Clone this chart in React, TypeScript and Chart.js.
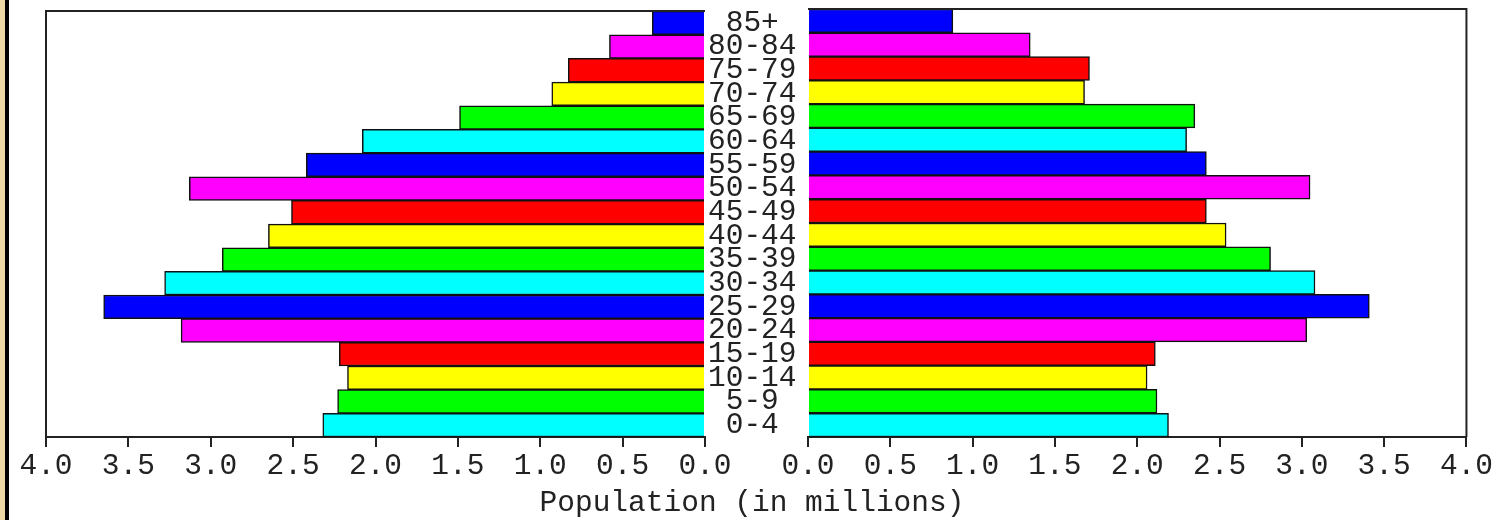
import React, { useEffect, useRef } from "react";
import { Chart, registerables } from "chart.js";

Chart.register(...registerables);

const ageGroups = ["0-4", "5-9", "10-14", "15-19", "20-24", "25-29", "30-34", "35-39", "40-44", "45-49", "50-54", "55-59", "60-64", "65-69", "70-74", "75-79", "80-84", "85+"];
const maleValues = [2.32, 2.23, 2.17, 2.22, 3.18, 3.65, 3.28, 2.93, 2.65, 2.51, 3.13, 2.42, 2.08, 1.49, 0.93, 0.83, 0.58, 0.32];
const femaleValues = [2.19, 2.12, 2.06, 2.11, 3.03, 3.41, 3.08, 2.81, 2.54, 2.42, 3.05, 2.42, 2.30, 2.35, 1.68, 1.71, 1.35, 0.88];
const palette = ["#00ffff", "#00ff00", "#ffff00", "#ff0000", "#ff00ff", "#0000ff"];
const axisMin = 0;
const axisMax = 4;
const axisStep = 0.5;
const axisTitle = "Population (in millions)";

const W = 1497;
const H = 520;
const FONT = { family: "'Liberation Mono', monospace", size: 29.5, lineHeight: 1 };
const LABEL_FONT = { family: "'Liberation Mono', monospace", size: 29.5, lineHeight: 0.55 };
const INK = "#222";

const barColors = ageGroups.map((_, i) => palette[i % palette.length]);

const framePlugin = (side: "left" | "right") => ({
  id: "frame" + side,
  afterDatasetsDraw(chart: any) {
    const { ctx, chartArea: a } = chart;
    ctx.save();
    ctx.strokeStyle = INK;
    ctx.lineWidth = 2;
    ctx.beginPath();
    if (side === "left") {
      ctx.moveTo(a.right, a.top);
      ctx.lineTo(a.left, a.top);
      ctx.lineTo(a.left, a.bottom);
    } else {
      ctx.moveTo(a.left, a.top);
      ctx.lineTo(a.right, a.top);
      ctx.lineTo(a.right, a.bottom);
    }
    ctx.stroke();
    ctx.restore();
  },
});

function xScale(reverse: boolean) {
  return {
    type: "linear" as const,
    min: axisMin,
    max: axisMax,
    reverse,
    afterFit: (s: any) => {
      s.height = 83;
    },
    ticks: {
      stepSize: axisStep,
      font: FONT,
      color: INK,
      padding: 4,
      maxRotation: 0,
      autoSkip: false,
      callback: (v: any) => Number(v).toFixed(1),
    },
    grid: {
      drawOnChartArea: false,
      drawTicks: true,
      tickLength: 10,
      color: INK,
      lineWidth: 2,
    },
    border: { display: true, color: INK, width: 2 },
  };
}

export default function App() {
  const leftRef = useRef<HTMLCanvasElement>(null);
  const rightRef = useRef<HTMLCanvasElement>(null);

  useEffect(() => {
    const common = {
      indexAxis: "y" as const,
      responsive: false,
      animation: false as const,
      devicePixelRatio: 1,
      plugins: { legend: { display: false }, tooltip: { enabled: false } },
    };
    const left = new Chart(leftRef.current!, {
      type: "bar",
      data: {
        labels: ageGroups,
        datasets: [
          {
            data: maleValues,
            backgroundColor: barColors,
            borderColor: "#111",
            borderWidth: 1.5,
            barPercentage: 1,
            categoryPercentage: 1,
          },
        ],
      },
      options: {
        ...common,
        layout: { padding: { left: 46, right: W - 705 - 103, top: 9, bottom: 0 } },
        scales: {
          x: xScale(true),
          y: {
            position: "right",
            reverse: true,
            afterFit: (s: any) => {
              s.width = 103;
            },
            ticks: {
              font: LABEL_FONT,
              color: INK,
              crossAlign: "center",
              autoSkip: false,
              padding: 3,
            },
            grid: { display: false, drawTicks: false },
            border: { display: false },
          },
        },
      },
      plugins: [framePlugin("left")],
    } as any);
    const right = new Chart(rightRef.current!, {
      type: "bar",
      data: {
        labels: ageGroups,
        datasets: [
          {
            data: femaleValues,
            backgroundColor: barColors,
            borderColor: "#111",
            borderWidth: 1.5,
            barPercentage: 1,
            categoryPercentage: 1,
          },
        ],
      },
      options: {
        ...common,
        layout: { padding: { left: 808, right: W - 1467, top: 9, bottom: 0 } },
        scales: {
          x: xScale(false),
          y: {
            display: false,
            reverse: true,
          },
        },
      },
      plugins: [framePlugin("right")],
    } as any);
    return () => {
      left.destroy();
      right.destroy();
    };
  }, []);

  return (
    <div
      style={{
        position: "fixed",
        left: 0,
        top: 0,
        width: W,
        height: H,
        background: "#fff",
        overflow: "hidden",
      }}
    >
      <div style={{ position: "absolute", left: 0, top: 0, width: 5, height: H, background: "#efd9a6" }} />
      <div style={{ position: "absolute", left: 5, top: 0, width: 4, height: H, background: "#000" }} />
      <canvas ref={leftRef} width={W} height={H} style={{ position: "absolute", left: 0, top: 0 }} />
      <canvas ref={rightRef} width={W} height={H} style={{ position: "absolute", left: 0, top: 0 }} />
      <div
        style={{
          position: "absolute",
          left: 7,
          width: 1490,
          top: 489,
          textAlign: "center",
          fontFamily: "'Liberation Mono', monospace",
          fontSize: 29.5,
          lineHeight: 1,
          color: INK,
          whiteSpace: "pre",
        }}
      >
        {axisTitle}
      </div>
    </div>
  );
}
